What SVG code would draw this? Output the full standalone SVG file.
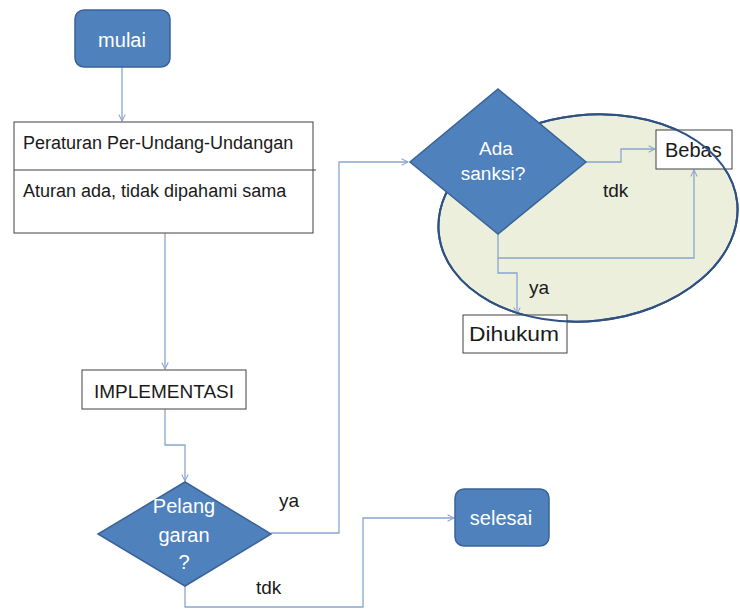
<svg xmlns="http://www.w3.org/2000/svg" width="740" height="610" viewBox="0 0 740 610">
<defs>
<style>
.blue{fill:#4f81bd;stroke:#3a6398;stroke-width:1.5}
.box{fill:#ffffff;stroke:#404040;stroke-width:1}
.wt{font-family:"Liberation Sans",Arial,sans-serif;fill:#ffffff;text-anchor:middle}
.bt{font-family:"Liberation Sans",Arial,sans-serif;fill:#1a1a1a}
.con{fill:none;stroke:#8aa5cf;stroke-width:1.3}
</style>
<marker id="arr" viewBox="0 0 10 10" refX="9" refY="5" markerWidth="8" markerHeight="8" markerUnits="userSpaceOnUse" orient="auto">
<path d="M1,1 L9,5 L1,9" fill="none" stroke="#8aa5cf" stroke-width="1.3"/>
</marker>
</defs>
<rect width="740" height="610" fill="#ffffff"/>

<g id="zone">
<ellipse cx="588" cy="218" rx="150" ry="103" transform="rotate(-6 588 218)" fill="#ecefdc" stroke="#2e5182" stroke-width="2"/>
</g>

<g id="connectors">
<path class="con" d="M122,67 V121" marker-end="url(#arr)"/>
<path class="con" d="M165,233 V369" marker-end="url(#arr)"/>
<path class="con" d="M165,409 V445 H185 V481" marker-end="url(#arr)"/>
<path class="con" d="M271,533 H339 V162 H408" marker-end="url(#arr)"/>
<path class="con" d="M185,586 V607 H363 V518 H454" marker-end="url(#arr)"/>
<path class="con" d="M586,162 H621 V149 H655" marker-end="url(#arr)"/>
<path class="con" d="M498,234 V258 H694 V170" marker-end="url(#arr)"/>
<path class="con" d="M498,258 V273 H517 V314" marker-end="url(#arr)"/>
</g>

<g id="mulai">
<rect class="blue" x="75" y="10" width="95" height="57" rx="9"/>
<text class="wt" x="122" y="47" font-size="20">mulai</text>
</g>

<g id="peraturan">
<rect class="box" x="14" y="122" width="299" height="111"/>
<line x1="14" y1="170" x2="316" y2="170" stroke="#404040" stroke-width="1"/>
<text class="bt" x="23" y="149" font-size="18">Peraturan Per-Undang-Undangan</text>
<text class="bt" x="23" y="197" font-size="18">Aturan ada, tidak dipahami sama</text>
</g>

<g id="implementasi">
<rect class="box" x="82" y="370" width="164" height="39"/>
<text class="bt" x="164" y="398" font-size="19" text-anchor="middle">IMPLEMENTASI</text>
</g>

<g id="pelanggaran">
<polygon class="blue" points="185,482 271,534 185,586 98,534"/>
<text class="wt" x="184" y="513" font-size="20">Pelang</text>
<text class="wt" x="184" y="542" font-size="20">garan</text>
<text class="wt" x="184" y="569" font-size="20">?</text>
</g>

<g id="labels">
<text class="bt" x="279" y="507" font-size="19">ya</text>
<text class="bt" x="256" y="594" font-size="19">tdk</text>
<text class="bt" x="603" y="197" font-size="19">tdk</text>
<text class="bt" x="529" y="294" font-size="19">ya</text>
</g>

<g id="selesai">
<rect class="blue" x="455" y="489" width="94" height="57" rx="9"/>
<text class="wt" x="501" y="525" font-size="20">selesai</text>
</g>

<g id="bebas">
<rect class="box" x="656" y="130" width="76" height="39"/>
<text class="bt" x="665" y="157" font-size="20">Bebas</text>
</g>

<g id="dihukum">
<rect class="box" x="463" y="315" width="104" height="38"/>
<text class="bt" x="469" y="341" font-size="20" textLength="90" lengthAdjust="spacingAndGlyphs">Dihukum</text>
</g>

<g id="zone-outline">
<ellipse cx="588" cy="218" rx="150" ry="103" transform="rotate(-6 588 218)" fill="none" stroke="#2e5182" stroke-width="2"/>
</g>

<g id="ada-sanksi">
<polygon class="blue" points="498,89 586,162 498,234 410,162"/>
<text class="wt" x="496" y="155" font-size="19">Ada</text>
<text class="wt" x="493" y="180" font-size="19">sanksi?</text>
</g>
</svg>
